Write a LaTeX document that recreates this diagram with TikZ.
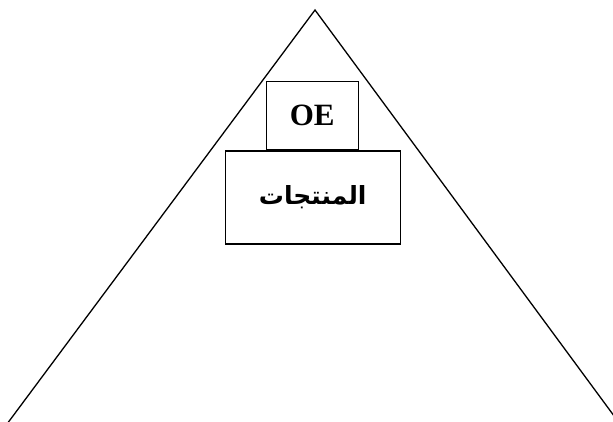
\documentclass[tikz,border=0pt]{standalone}
\usepackage{fontspec}
\setmainfont{Liberation Serif}
\newfontfamily\arabicfont[Script=Arabic]{DejaVu Sans}
\TeXXeTstate=1
\tikzset{
  sidearr/.style = {line width=1.3pt,line cap=round},
  boxnode/.style = {draw,line width=1.4pt,fill=white,inner sep=0pt,anchor=north west}
}
\begin{document}
\begin{tikzpicture}[x=1pt,y=-1pt]
  \useasboundingbox (0,0) rectangle (613,421);
  \clip (0,0) rectangle (613,421);
  \coordinate (apex) at (315,10);
  \coordinate (baseL) at (7,424);
  \coordinate (baseR) at (620,424);
  \draw[sidearr] (baseL) -- (apex) -- (baseR);
  \node[boxnode,minimum width=92pt,minimum height=68pt] (oe) at (265.5,81)
    {\fontsize{31}{33}\selectfont\bfseries OE};
  \node[boxnode,minimum width=175pt,minimum height=93pt] (prod) at (oe.south west -| 224.5,0)
    {\raisebox{3pt}{\fontsize{25}{28}\selectfont\arabicfont\bfseries\beginR المنتجات\endR}};
\end{tikzpicture}
\end{document}
